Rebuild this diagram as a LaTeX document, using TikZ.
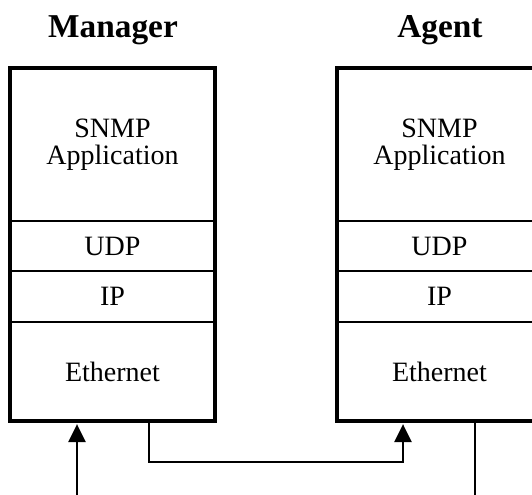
\documentclass[tikz,border=0pt]{standalone}
\usepackage{fontspec}
\setmainfont{Liberation Serif}
\usetikzlibrary{arrows.meta}
\begin{document}
\begin{tikzpicture}[x=0.75pt,y=-0.75pt,
  layer/.style={draw, line width=1pt, minimum width=153.75pt, inner sep=0pt, outer sep=0pt, align=center, font=\fontsize{21}{20}\selectfont},
  frame/.style={line width=2.3pt},
  title/.style={font=\bfseries\fontsize{25}{25}\selectfont, anchor=base},
  arr/.style={line width=1.2pt, -{Triangle[length=13.5pt,width=13pt]}},
  wire/.style={line width=1.2pt}]
\clip (0,0) rectangle (532,495);
% Manager stack
\node[title] (mtitle) at (113,38) {Manager};
\node[layer, minimum height=114.75pt] (mapp) at (112.5,144.5) {SNMP\\Application};
\node[layer, minimum height=37.5pt, anchor=north] (mudp) at (mapp.south) {UDP};
\node[layer, minimum height=38.25pt, anchor=north] (mip) at (mudp.south) {IP};
\node[layer, minimum height=74.25pt, anchor=north] (meth) at (mip.south) {Ethernet};
\draw[frame] (mapp.north west) rectangle (meth.south east);
% Agent stack
\node[title] (atitle) at (440,38) {Agent};
\node[layer, minimum height=114.75pt] (aapp) at (439.5,144.5) {SNMP\\Application};
\node[layer, minimum height=37.5pt, anchor=north] (audp) at (aapp.south) {UDP};
\node[layer, minimum height=38.25pt, anchor=north] (aip) at (audp.south) {IP};
\node[layer, minimum height=74.25pt, anchor=north] (aeth) at (aip.south) {Ethernet};
\draw[frame] (aapp.north west) rectangle (aeth.south east);
% connectors
\coordinate (min) at (77,495);
\coordinate (jl) at (148.7,462);
\coordinate (jr) at (403,462);
\coordinate (aout) at (475,495);
\draw[arr, shorten >=2.4pt] (min) -- (meth.south -| min);
\draw[arr, shorten >=2.4pt] (meth.south -| jl) -- (jl) -- (jr) -- (aeth.south -| jr);
\draw[wire] (aeth.south -| aout) -- (aout);
\end{tikzpicture}
\end{document}
